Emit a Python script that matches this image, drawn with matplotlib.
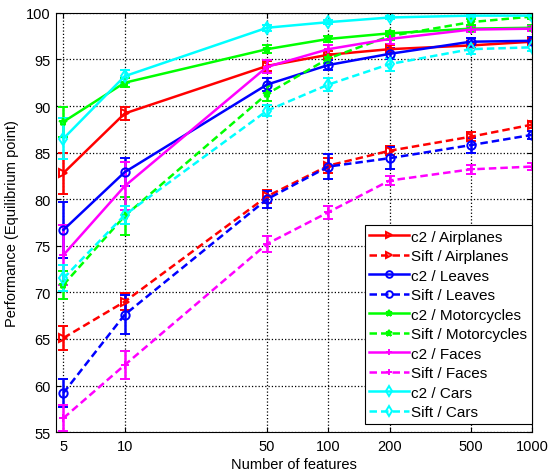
import numpy as np
import matplotlib
matplotlib.use("Agg")
import matplotlib.pyplot as plt

# number of features (log x-axis)
n_feat = [5, 10, 50, 100, 200, 500, 1000]

# c2 features (solid lines)
c2_airplanes = [82.8, 89.2, 94.3, 95.5, 96.1, 96.5, 96.9]
c2_airplanes_err = [2.2, 0.7, 0.5, 0.4, 0.4, 0.3, 0.3]
c2_leaves = [76.7, 82.9, 92.3, 94.4, 95.6, 96.9, 97.0]
c2_leaves_err = [3.0, 1.5, 0.7, 0.5, 0.6, 0.4, 0.4]
c2_motorcycles = [88.3, 92.5, 96.1, 97.2, 97.8, 98.3, 98.4]
c2_motorcycles_err = [1.6, 0.5, 0.4, 0.3, 0.3, 0.3, 0.3]
c2_faces = [74.0, 81.4, 94.2, 96.1, 97.2, 98.2, 98.3]
c2_faces_err = [3.2, 2.6, 0.7, 0.5, 0.5, 0.3, 0.3]
c2_cars = [86.5, 93.2, 98.4, 99.0, 99.5, 99.7, 99.7]
c2_cars_err = [2.2, 0.7, 0.3, 0.2, 0.2, 0.2, 0.2]

# Sift features (dashed lines)
sift_airplanes = [65.1, 69.0, 80.3, 83.6, 85.2, 86.7, 88.0]
sift_airplanes_err = [1.3, 0.9, 0.7, 0.8, 0.5, 0.5, 0.4]
sift_leaves = [59.2, 67.6, 80.0, 83.5, 84.4, 85.8, 86.9]
sift_leaves_err = [1.5, 2.1, 0.9, 1.3, 1.2, 0.8, 0.4]
sift_motorcycles = [70.8, 78.2, 91.3, 95.1, 97.5, 99.0, 99.6]
sift_motorcycles_err = [1.5, 2.0, 0.8, 0.5, 0.4, 0.3, 0.3]
sift_faces = [56.5, 62.2, 75.2, 78.6, 82.0, 83.2, 83.5]
sift_faces_err = [1.4, 1.5, 0.9, 0.7, 0.5, 0.5, 0.4]
sift_cars = [71.5, 78.3, 89.5, 92.3, 94.5, 96.1, 96.3]
sift_cars_err = [1.4, 1.0, 0.6, 0.7, 0.7, 0.5, 0.4]

RED, BLUE, GREEN, MAG, CYAN = "#ff0000", "#0000ff", "#00ff00", "#ff00ff", "#00ffff"
series = [
    ("c2 / Airplanes", c2_airplanes, c2_airplanes_err, RED, "-", ">"),
    ("Sift / Airplanes", sift_airplanes, sift_airplanes_err, RED, "--", ">"),
    ("c2 / Leaves", c2_leaves, c2_leaves_err, BLUE, "-", "o"),
    ("Sift / Leaves", sift_leaves, sift_leaves_err, BLUE, "--", "o"),
    ("c2 / Motorcycles", c2_motorcycles, c2_motorcycles_err, GREEN, "-", "*"),
    ("Sift / Motorcycles", sift_motorcycles, sift_motorcycles_err, GREEN, "--", "*"),
    ("c2 / Faces", c2_faces, c2_faces_err, MAG, "-", "+"),
    ("Sift / Faces", sift_faces, sift_faces_err, MAG, "--", "+"),
    ("c2 / Cars", c2_cars, c2_cars_err, CYAN, "-", "d"),
    ("Sift / Cars", sift_cars, sift_cars_err, CYAN, "--", "d"),
]

plt.rcParams.update({
    "font.family": "Liberation Sans", "font.size": 10.5,
    "xtick.direction": "in", "ytick.direction": "in",
    "xtick.top": True, "ytick.right": True,
    "xtick.major.pad": 5, "ytick.major.pad": 4,
})

fig = plt.figure(figsize=(5.49, 4.77), dpi=100)
ax = fig.add_axes([0.102, 0.092, 0.867, 0.879])

handles = []
for label, y, err, col, ls, mk in series:
    c = ax.errorbar(n_feat, y, yerr=err, color=col, ls=ls, lw=1.8, marker=mk,
                    ms=6, mfc="none", mew=1.4, capsize=3.5, elinewidth=1.8,
                    capthick=1.8, label=label)
    if ls == "--":
        c.lines[0].set_dashes((3, 1.6))
    handles.append(c.lines[0])

ax.set_xscale("log")
ax.set_xlim(4.6, 1000)
ax.set_ylim(55, 100)
ax.set_xticks(n_feat)
ax.set_xticklabels([str(n) for n in n_feat])
ax.minorticks_off()
ax.set_yticks(np.arange(55, 101, 5))
ax.grid(True, color="black", ls=":", lw=0.9)
ax.set_xlabel("Number of features", labelpad=3)
ax.set_ylabel("Performance (Equilibrium point)", labelpad=5)

leg = ax.legend(handles, [s[0] for s in series], loc="lower right",
                bbox_to_anchor=(1.0, 0.02), fontsize=11, handlelength=2.6,
                handletextpad=0.15, labelspacing=0.36, borderaxespad=0.0,
                borderpad=0.3, fancybox=False, framealpha=1, edgecolor="black",
                markerscale=0.8)
leg.get_frame().set_linewidth(0.8)

fig.savefig("out.png", dpi=100)
